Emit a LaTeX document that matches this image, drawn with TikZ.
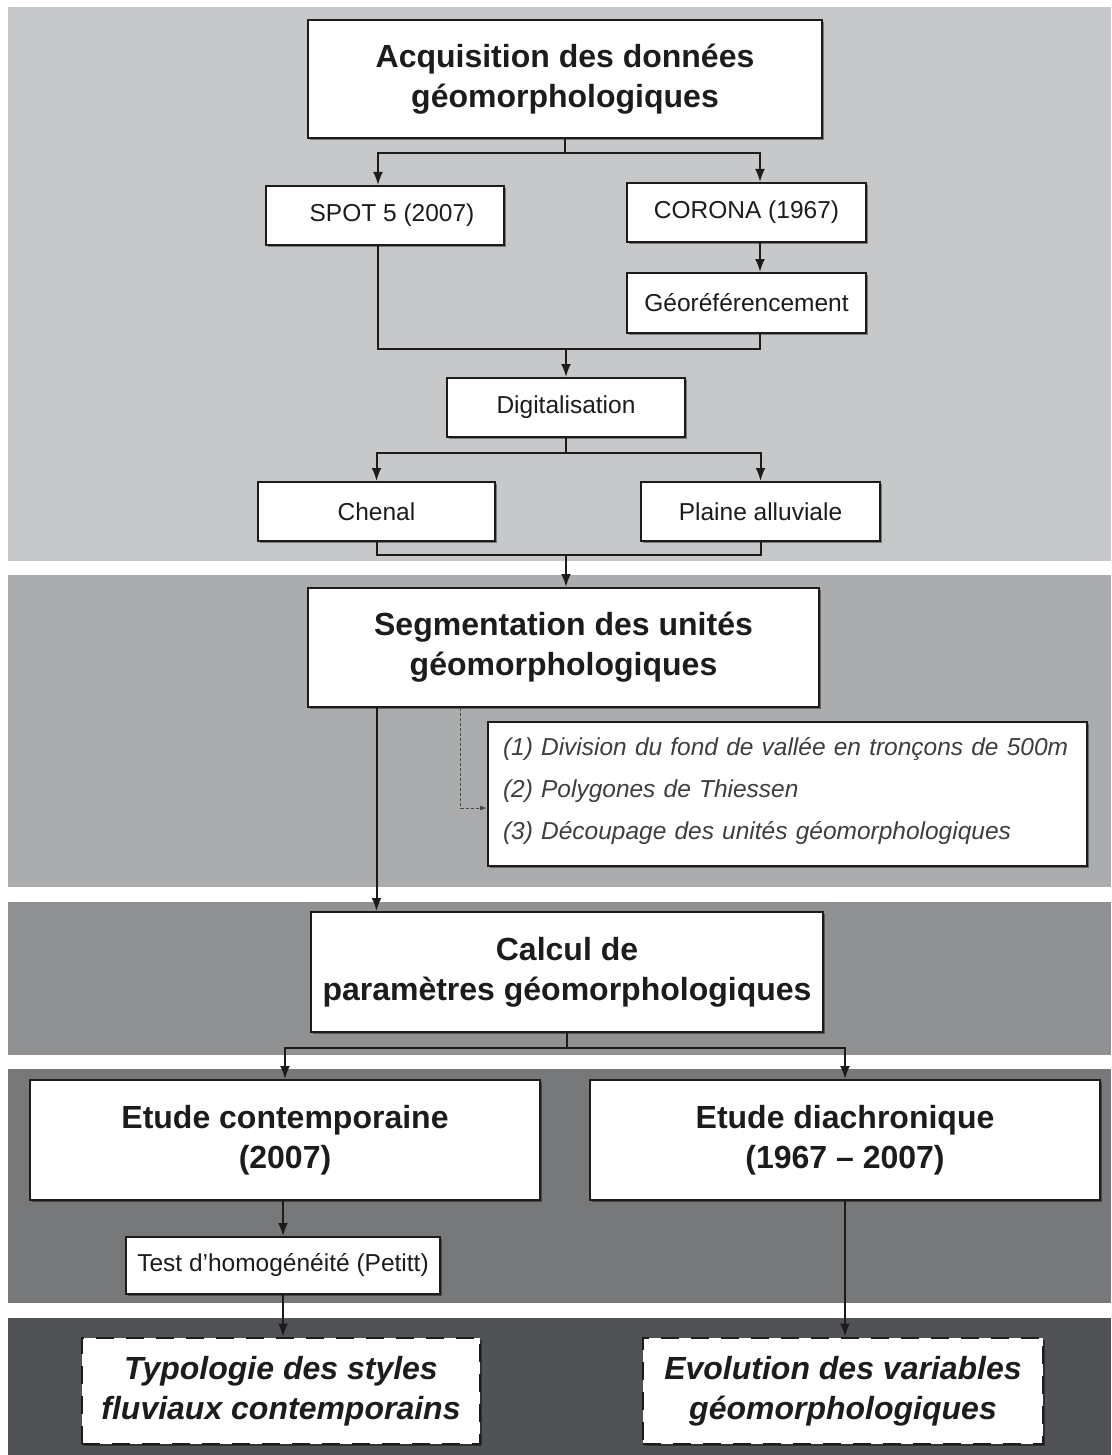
\documentclass[tikz,border=0pt]{standalone}
\usepackage{fontspec}
\setmainfont{Liberation Sans}
\usetikzlibrary{arrows.meta,shadows}
\definecolor{bandA}{RGB}{198,200,202}
\definecolor{bandB}{RGB}{170,172,174}
\definecolor{bandC}{RGB}{143,145,147}
\definecolor{bandD}{RGB}{118,120,122}
\definecolor{bandE}{RGB}{80,82,85}
\definecolor{ink}{RGB}{28,28,28}

\begin{document}
\begin{tikzpicture}[x=1pt,y=-1pt,
  box/.style={draw=ink, line width=2pt, fill=white, inner sep=0pt, align=center, text=ink,
    drop shadow={shadow xshift=2pt,shadow yshift=-2pt,opacity=0.4,fill=black}},
  big/.style={box, font=\fontsize{32}{40}\selectfont\bfseries},
  small/.style={box, font=\fontsize{24.5}{30}\selectfont},
  result/.style={big, dash pattern=on 18pt off 12pt, line width=2.6pt,
    font=\fontsize{32}{40}\selectfont\bfseries\itshape},
  line/.style={draw=ink, line width=2pt},
  arr/.style={line, -{Latex[length=13pt,width=10pt]}},
  hint/.style={draw=ink!80, line width=1pt, dash pattern=on 3pt off 2pt, -{Latex[length=7pt,width=5pt]}}]
\useasboundingbox (0,0) rectangle (1111,1455);

%Background bands
\fill[bandA] (8,7) rectangle (1111,561);
\fill[bandB] (8,575) rectangle (1111,887);
\fill[bandC] (8,902) rectangle (1111,1055);
\fill[bandD] (8,1069) rectangle (1111,1303);
\fill[bandE] (8,1318) rectangle (1111,1455);

%Shape: Rectangle
\node[big, minimum width=514pt, minimum height=118pt] (acq) at (565,79) {Acquisition des données\\géomorphologiques};
\node[small, minimum width=238pt, minimum height=59pt] (spot) at (385,215.5) {\hspace{14pt}SPOT 5 (2007)};
\node[small, minimum width=239pt, minimum height=59pt] (corona) at (746.5,212.5) {CORONA (1967)};
\node[small, minimum width=239pt, minimum height=60pt] (geo) at (746.5,303) {Géoréférencement};
\node[small, minimum width=238pt, minimum height=59pt] (digit) at (566,407.5) {Digitalisation};
\node[small, minimum width=237pt, minimum height=59pt] (chenal) at (376.5,511.5) {Chenal};
\node[small, minimum width=239pt, minimum height=59pt] (plaine) at (760.5,511.5) {Plaine alluviale};
\node[big, minimum width=511pt, minimum height=119pt] (seg) at (563.5,647.5) {Segmentation des unités\\géomorphologiques};
\node[box, font=\fontsize{24.5}{42}\selectfont\itshape, text=ink!85, align=left, text width=569pt,
  inner xsep=15pt, minimum height=144pt] (list) at (787.5,794)
  {(1) Division du fond de vallée en tronçons de 500m\\(2) Polygones de Thiessen\\(3) Découpage des unités géomorphologiques\vspace{6pt}};
\node[big, minimum width=512pt, minimum height=120pt] (calc) at (567,972) {Calcul de\\paramètres géomorphologiques};
\node[big, minimum width=510pt, minimum height=120pt] (etc) at (285,1140) {Etude contemporaine\\(2007)};
\node[big, minimum width=510pt, minimum height=120pt] (etd) at (845,1140) {Etude diachronique\\(1967 -- 2007)};
\node[small, minimum width=314pt, minimum height=57pt] (test) at (283,1265.5) {Test d’homogénéité (Petitt)};
\node[result, minimum width=398pt, minimum height=106pt] (typo) at (281,1391) {Typologie des styles\\fluviaux contemporains};
\node[result, minimum width=400pt, minimum height=106pt] (evol) at (843,1391) {Evolution des variables\\géomorphologiques};

%Straight Lines
\coordinate (m1) at (566,349);
\coordinate (m2) at (566,555);
\draw[arr] (acq.south) -- ++(0,14) -| ([xshift=-7pt]spot.north);
\draw[arr] (acq.south) -- ++(0,14) -| ([xshift=13.5pt]corona.north);
\draw[arr] ([xshift=13.5pt]corona.south) -- ([xshift=13.5pt]geo.north);
\draw[line] ([xshift=-7pt]spot.south) |- (m1) -| ([xshift=13.5pt]geo.south);
\draw[arr] (m1) -- (digit.north);
\draw[arr] (digit.south) -- ++(0,15) -| (chenal.north);
\draw[arr] (digit.south) -- ++(0,15) -| (plaine.north);
\draw[line] (chenal.south) |- (m2) -| (plaine.south);
\draw[arr] (m2) -- (m2 |- seg.north);
\draw[arr] (seg.south -| chenal.south) -- (calc.north -| chenal.south);
\draw[hint] ([xshift=-103pt]seg.south) |- ([yshift=-14pt]list.west);
\draw[arr] (calc.south) -- ++(0,15) -| (etc.north);
\draw[arr] (calc.south) -- ++(0,15) -| (etd.north);
\draw[arr] (etc.south -| test.north) -- (test.north);
\draw[arr] (test.south) -- (test.south |- typo.north);
\draw[arr] (etd.south) -- (etd.south |- evol.north);

\end{tikzpicture}
\end{document}
